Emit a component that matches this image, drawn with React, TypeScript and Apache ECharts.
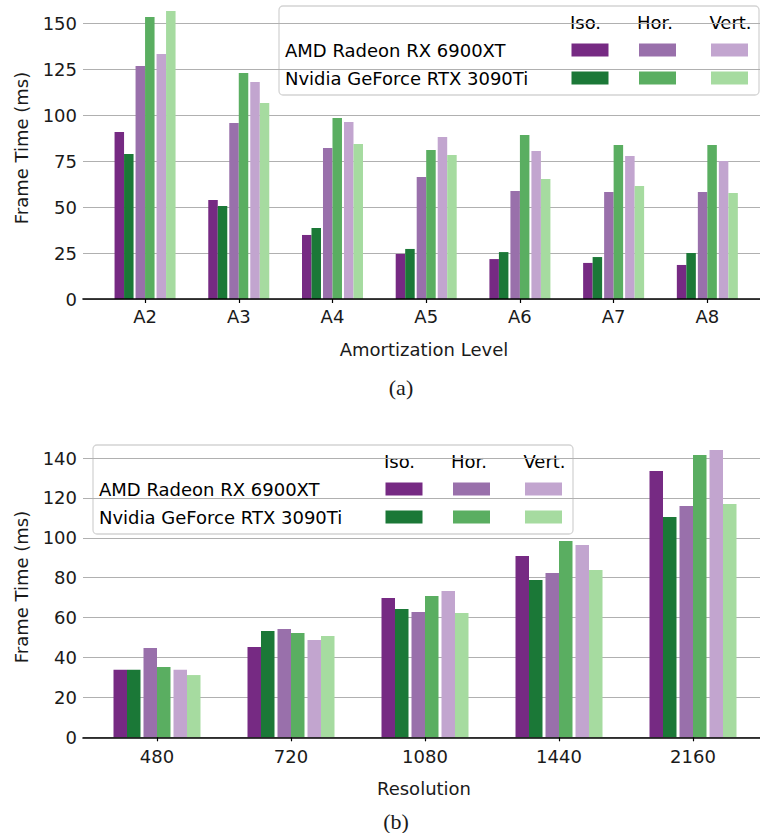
import React, { useEffect, useRef } from "react";
import * as echarts from "echarts";

// ---------- data ----------
const levelCats = ["A2", "A3", "A4", "A5", "A6", "A7", "A8"];
const levelAmdIso = [90.8, 53.8, 34.8, 24.5, 21.7, 19.6, 18.5];
const levelNvIso = [78.8, 50.5, 38.6, 27.2, 25.5, 22.8, 25.0];
const levelAmdHor = [126.6, 95.7, 82.1, 66.3, 58.7, 58.2, 58.2];
const levelNvHor = [153.3, 122.8, 98.4, 81.0, 89.1, 83.7, 83.7];
const levelAmdVert = [133.2, 117.9, 96.2, 88.0, 80.4, 77.7, 75.0];
const levelNvVert = [156.5, 106.5, 84.2, 78.3, 65.2, 61.4, 57.6];

const resCats = ["480", "720", "1080", "1440", "2160"];
const resAmdIso = [33.8, 45.3, 69.8, 90.9, 133.5];
const resNvIso = [33.8, 53.3, 64.3, 78.9, 110.4];
const resAmdHor = [44.8, 54.3, 62.8, 82.4, 115.9];
const resNvHor = [35.2, 52.3, 70.8, 98.4, 141.5];
const resAmdVert = [33.8, 48.8, 73.3, 96.4, 144.0];
const resNvVert = [31.2, 50.8, 62.3, 83.9, 116.9];

const legendRows = ["AMD Radeon RX 6900XT", "Nvidia GeForce RTX 3090Ti"];
const legendCols = ["Iso.", "Hor.", "Vert."];
const amdColors = ["#762a83", "#9970ab", "#c2a5cf"];
const nvColors = ["#1b7837", "#5aae61", "#a6dba0"];

const topTickMax = 150;
const topTickStep = 25;
const botTickMax = 140;
const botTickStep = 20;

// ---------- layout ----------
const FONT = "DejaVu Sans";
const FS = 18;
const TXT = "#1a1a1a";

const TOP_AXIS_Y = 299;
const TOP_PX = 1.84;
const BOT_AXIS_Y = 737.3;
const BOT_PX = 1.995;

function buildBars(
  xi: number,
  yi: number,
  amd: number[][],
  nv: number[][],
  barW: number,
  gapW: number,
  prefix: string
) {
  const out: any[] = [];
  for (let k = 0; k < 3; k++) {
    if (k > 0) {
      out.push({
        type: "bar",
        name: prefix + "gap" + k,
        xAxisIndex: xi,
        yAxisIndex: yi,
        data: [],
        barWidth: gapW,
        barGap: "0%",
        silent: true,
      });
    }
    out.push({
      type: "bar",
      name: prefix + "amd" + k,
      xAxisIndex: xi,
      yAxisIndex: yi,
      data: amd[k],
      barWidth: barW,
      barGap: "0%",
      silent: true,
      itemStyle: { color: amdColors[k] },
    });
    out.push({
      type: "bar",
      name: prefix + "nv" + k,
      xAxisIndex: xi,
      yAxisIndex: yi,
      data: nv[k],
      barWidth: barW,
      barGap: "0%",
      silent: true,
      itemStyle: { color: nvColors[k] },
    });
  }
  return out;
}

function legendGroup(bx: number, by: number) {
  const children: any[] = [
    {
      type: "rect",
      shape: { x: bx, y: by, width: 480, height: 89, r: 4 },
      style: { fill: "rgba(255,255,255,0.8)", stroke: "#d4d4d4", lineWidth: 1.3 },
    },
  ];
  const headerX = [306.5, 376, 451.5];
  const swX = [311, 378.5, 450.5];
  const rowY = [44, 72];
  legendCols.forEach((c, i) => {
    children.push({
      type: "text",
      x: bx + headerX[i],
      y: by + 16.5,
      style: {
        text: c,
        font: `${FS}px "${FONT}"`,
        fill: "#000",
        align: "center",
        verticalAlign: "middle",
        textAlign: "center",
        textVerticalAlign: "middle",
      },
    });
  });
  legendRows.forEach((r, j) => {
    children.push({
      type: "text",
      x: bx + 6,
      y: by + rowY[j],
      style: {
        text: r,
        font: `${FS}px "${FONT}"`,
        fill: "#000",
        align: "left",
        verticalAlign: "middle",
        textAlign: "left",
        textVerticalAlign: "middle",
      },
    });
    const cols = j === 0 ? amdColors : nvColors;
    swX.forEach((sx, i) => {
      children.push({
        type: "rect",
        shape: { x: bx + sx - 18.5, y: by + rowY[j] - 6.5, width: 37, height: 13 },
        style: { fill: cols[i] },
      });
    });
  });
  return { type: "group", z: 100, children };
}

function txt(text: string, x: number, y: number, extra: any = {}) {
  return {
    type: "text",
    x,
    y,
    z: 100,
    ...extra,
    style: {
      text,
      font: extra.font || `${FS}px "${FONT}"`,
      fill: TXT,
      align: "center",
      verticalAlign: "middle",
      textAlign: "center",
      textVerticalAlign: "middle",
    },
  };
}

export default function App() {
  const ref = useRef<HTMLDivElement>(null);
  useEffect(() => {
    if (!ref.current) return;
    const chart = echarts.init(ref.current, undefined, { renderer: "svg" });

    const topBgH = topTickMax * TOP_PX;
    const topBarMax = TOP_AXIS_Y / TOP_PX;
    const botBgH = botTickMax * BOT_PX;
    const botBarTop = 436;
    const botBarH = BOT_AXIS_Y - botBarTop;
    const botBarMax = botBarH / BOT_PX;

    const bgX = (gi: number) => ({
      gridIndex: gi,
      type: "value",
      min: 0,
      max: 1,
      z: 5,
      axisLine: { show: true, onZero: true, lineStyle: { color: "#000", width: 1.6 } },
      axisTick: { show: false },
      axisLabel: { show: false },
      splitLine: { show: false },
    });
    const catX = (gi: number, cats: string[], margin: number) => ({
      gridIndex: gi,
      type: "category",
      data: cats,
      axisLine: { show: false },
      axisTick: { show: true, alignWithLabel: true, length: 4, lineStyle: { color: "#000", width: 1.2 } },
      axisLabel: { fontSize: FS, fontFamily: FONT, color: TXT, margin },
      splitLine: { show: false },
    });
    const bgY = (gi: number, max: number, step: number) => ({
      gridIndex: gi,
      type: "value",
      min: 0,
      max,
      interval: step,
      axisLine: { show: false },
      axisTick: { show: false },
      axisLabel: { fontSize: FS, fontFamily: FONT, color: TXT, margin: 6 },
      splitLine: { show: true, lineStyle: { color: "#b0b0b0", width: 1.2 } },
    });
    const hidY = (gi: number, max: number) => ({
      gridIndex: gi,
      type: "value",
      min: 0,
      max,
      show: false,
    });

    chart.setOption({
      animation: false,
      textStyle: { fontFamily: FONT },
      grid: [
        { left: 83, right: 0, top: TOP_AXIS_Y - topBgH, height: topBgH },
        { left: 98.2, width: 656, top: 0, height: TOP_AXIS_Y },
        { left: 83, right: 0, top: BOT_AXIS_Y - botBgH, height: botBgH },
        { left: 90, width: 670, top: botBarTop, height: botBarH },
      ],
      xAxis: [bgX(0), catX(1, levelCats, 8), bgX(2), catX(3, resCats, 10)],
      yAxis: [
        bgY(0, topTickMax, topTickStep),
        hidY(1, topBarMax),
        bgY(2, botTickMax, botTickStep),
        hidY(3, botBarMax),
      ],
      series: [
        ...buildBars(
          1,
          1,
          [levelAmdIso, levelAmdHor, levelAmdVert],
          [levelNvIso, levelNvHor, levelNvVert],
          9.5,
          2,
          "t"
        ),
        ...buildBars(
          3,
          3,
          [resAmdIso, resAmdHor, resAmdVert],
          [resNvIso, resNvHor, resNvVert],
          13.5,
          3,
          "b"
        ),
      ],
      graphic: [
        legendGroup(279, 6),
        legendGroup(93, 445),
        txt("Frame Time (ms)", 21, 148, { rotation: Math.PI / 2 }),
        txt("Frame Time (ms)", 21, 587, { rotation: Math.PI / 2 }),
        txt("Amortization Level", 424, 349),
        txt("Resolution", 424, 788),
        txt("(a)", 401, 387, { font: '22px "Liberation Serif"' }),
        txt("(b)", 396, 821, { font: '22px "Liberation Serif"' }),
      ],
    });
    return () => chart.dispose();
  }, []);
  return (
    <div
      ref={ref}
      style={{ position: "fixed", left: 0, top: 0, width: 760, height: 833, background: "#fff" }}
    />
  );
}
